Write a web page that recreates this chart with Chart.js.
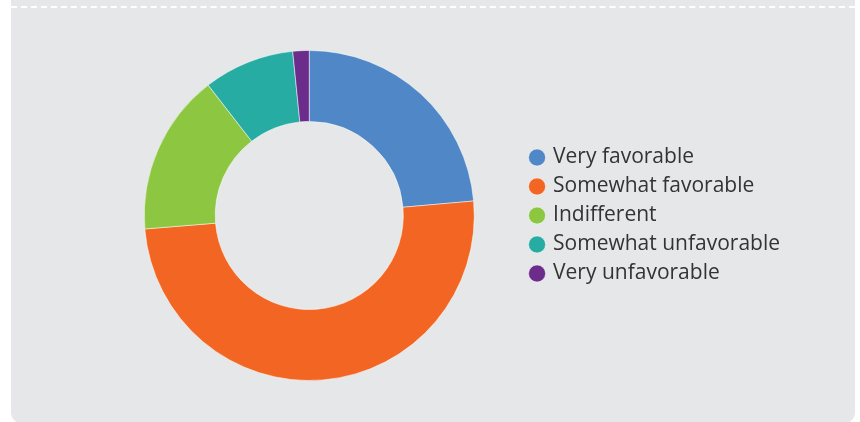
<!DOCTYPE html>
<html>
<head>
<meta charset="utf-8">
<script src="https://cdn.jsdelivr.net/npm/chart.js@4/dist/chart.umd.min.js"></script>
<style>
  html, body { margin: 0; padding: 0; background: #fff; }
  body { width: 860px; height: 422px; overflow: hidden; position: relative; }
  .panel {
    position: absolute; left: 11px; top: 0; width: 844px; height: 424px;
    background: #e6e7e8; border-radius: 0 0 12px 12px;
  }
  .dash {
    position: absolute; left: 0; right: 0; top: 6px; height: 0;
    border-top: 2px dashed #fff;
  }
  .wrap { position: absolute; left: 0; top: 0; width: 844px; height: 422px; }
</style>
</head>
<body>
<div class="panel">
  <div class="dash"></div>
  <div class="wrap"><canvas id="c"></canvas></div>
</div>
<script>
const labels = ['Very favorable', 'Somewhat favorable', 'Indifferent', 'Somewhat unfavorable', 'Very unfavorable'];
const values = [23.6, 50.1, 15.8, 8.9, 1.6];
const colors = ['#4f87c7', '#f26522', '#8dc641', '#27aca3', '#6b2c8b'];

new Chart(document.getElementById('c'), {
  type: 'doughnut',
  data: {
    labels: labels,
    datasets: [{
      data: values,
      backgroundColor: colors,
      borderColor: 'rgba(255,255,255,0.5)',
      borderWidth: 1
    }]
  },
  options: {
    responsive: true,
    maintainAspectRatio: false,
    animation: false,
    cutout: '57%',
    layout: { padding: { left: 84, right: 65, top: 50, bottom: 41 } },
    plugins: {
      tooltip: { enabled: false },
      legend: {
        position: 'right',
        labels: {
          usePointStyle: true,
          pointStyle: 'circle',
          boxWidth: 11,
          boxHeight: 12,
          padding: 8,
          color: '#333333',
          font: { family: 'Open Sans', size: 21 }
        }
      }
    }
  }
});
</script>
</body>
</html>
